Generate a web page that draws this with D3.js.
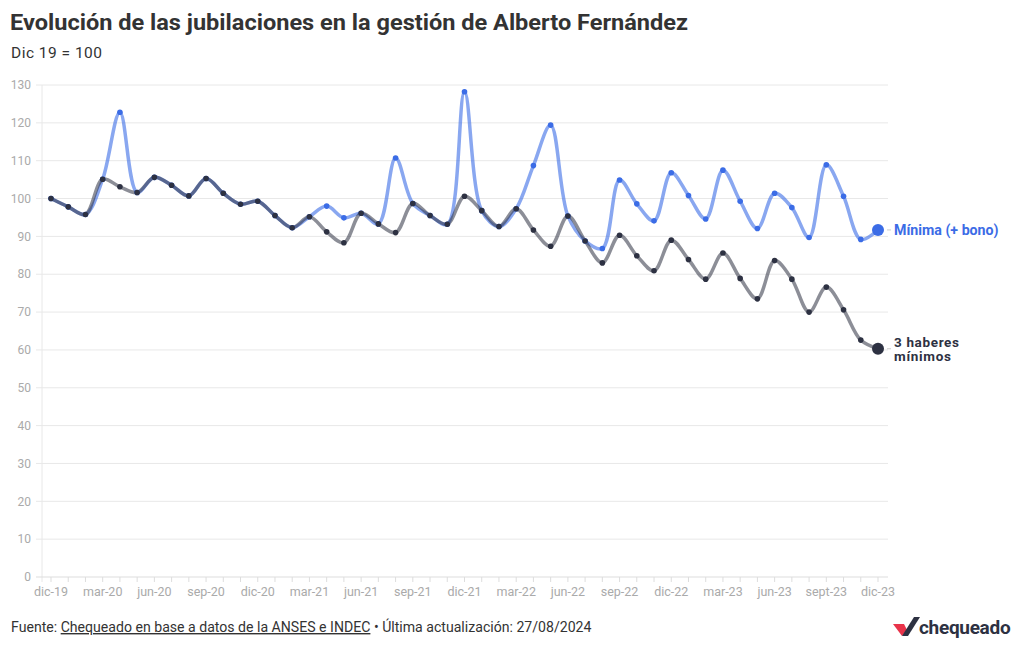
<!DOCTYPE html>
<html><head><meta charset="utf-8">
<script src="https://cdn.jsdelivr.net/npm/d3@7/dist/d3.min.js"></script>
<style>
body{margin:0;background:#fff;font-family:Roboto,"Liberation Sans",sans-serif;}
svg text{font-family:Roboto,"Liberation Sans",sans-serif;}
</style></head>
<body><svg id="c" width="1020" height="650"></svg>
<script>
const months = ["dic-19","ene-20","feb-20","mar-20","abr-20","may-20","jun-20","jul-20","ago-20","sep-20","oct-20","nov-20",
"dic-20","ene-21","feb-21","mar-21","abr-21","may-21","jun-21","jul-21","ago-21","sep-21","oct-21","nov-21",
"dic-21","ene-22","feb-22","mar-22","abr-22","may-22","jun-22","jul-22","ago-22","sep-22","oct-22","nov-22",
"dic-22","ene-23","feb-23","mar-23","abr-23","may-23","jun-23","jul-23","ago-23","sept-23","oct-23","nov-23","dic-23"];
const tickLabels = ["dic-19","mar-20","jun-20","sep-20","dic-20","mar-21","jun-21","sep-21","dic-21","mar-22","jun-22","sep-22","dic-22","mar-23","jun-23","sept-23","dic-23"];
const yTicks = [0,10,20,30,40,50,60,70,80,90,100,110,120,130];
const minimaBono = [100,97.8,95.8,105.1,122.8,101.6,105.6,103.5,100.7,105.3,101.4,98.5,
99.3,95.5,92.3,95.2,98.0,94.9,96.1,93.3,110.7,98.7,95.5,93.2,
128.2,96.8,92.6,97.3,108.7,119.4,95.4,88.8,86.8,104.9,98.6,94.1,
106.8,100.8,94.6,107.5,99.3,92.1,101.4,97.6,89.7,108.9,100.6,89.2,91.7];
const tresHaberes = [100,97.8,95.8,105.1,103.1,101.6,105.6,103.5,100.7,105.3,101.4,98.5,
99.3,95.5,92.3,95.2,91.2,88.3,96.1,93.3,91.0,98.7,95.5,93.2,
100.6,96.8,92.6,97.3,91.7,87.4,95.4,88.8,83.0,90.3,84.9,80.9,
89.0,83.9,78.7,85.6,78.9,73.5,83.6,78.7,70.0,76.6,70.6,62.6,60.3];

const svg = d3.select("#c");
const x = d3.scalePoint().domain(months).range([51,878]);
const y = d3.scaleLinear().domain([0,130]).range([577,85]);

// title
svg.append("text").attr("x",10).attr("y",30).attr("font-size",22).attr("font-weight",700).attr("fill","#333")
  .attr("textLength",678).attr("lengthAdjust","spacingAndGlyphs")
  .text("Evolución de las jubilaciones en la gestión de Alberto Fernández");
svg.append("text").attr("x",11).attr("y",58).attr("font-size",15.5).attr("fill","#333")
  .attr("textLength",91).text("Dic 19 = 100");

// grid
const gy = svg.append("g");
gy.selectAll("line").data(yTicks.filter(d=>d>0)).join("line")
  .attr("x1",36).attr("x2",888).attr("y1",d=>y(d)).attr("y2",d=>y(d)).attr("stroke","#e8e8e8");
gy.selectAll("text").data(yTicks).join("text")
  .attr("x",31).attr("y",d=>y(d)).attr("dy","0.35em").attr("text-anchor","end")
  .attr("font-size",12).attr("fill","#aaa").text(d=>d);
svg.append("line").attr("x1",42).attr("x2",42).attr("y1",y(130)).attr("y2",582).attr("stroke","#e8e8e8");
svg.append("line").attr("x1",36).attr("x2",888).attr("y1",y(0)).attr("y2",y(0)).attr("stroke","#ddd");
// x ticks
svg.append("g").selectAll("line").data(months).join("line")
  .attr("x1",d=>x(d)).attr("x2",d=>x(d)).attr("y1",y(0)).attr("y2",y(0)+5).attr("stroke","#ddd");
svg.append("g").selectAll("text").data(tickLabels).join("text")
  .attr("x",d=>x(d)).attr("y",596).attr("text-anchor","middle").attr("font-size",12.5).attr("fill","#aaa").text(d=>d);

const line = d3.line().x((d,i)=>x(months[i])).y(d=>y(d)).curve(d3.curveCatmullRom.alpha(0.5));
const blue="#3b6ce6", dark="#2d3142";
svg.append("path").attr("d",line(minimaBono)).attr("fill","none").attr("stroke",blue).attr("stroke-opacity",0.6).attr("stroke-width",3.5);
svg.append("path").attr("d",line(tresHaberes)).attr("fill","none").attr("stroke",dark).attr("stroke-opacity",0.55).attr("stroke-width",3.5);

svg.append("g").selectAll("circle").data(minimaBono).join("circle")
  .attr("cx",(d,i)=>x(months[i])).attr("cy",d=>y(d)).attr("r",(d,i)=>i===minimaBono.length-1?6:2.8).attr("fill",blue);
svg.append("g").selectAll("circle").data(tresHaberes).join("circle")
  .attr("cx",(d,i)=>x(months[i])).attr("cy",d=>y(d)).attr("r",(d,i)=>i===tresHaberes.length-1?6:2.8).attr("fill",dark);

// end labels
const lastI = months.length-1;
const lx = x(months[lastI]);
svg.append("line").attr("x1",lx+9).attr("x2",lx+13).attr("y1",y(minimaBono[lastI])).attr("y2",y(minimaBono[lastI])).attr("stroke","#ccc");
svg.append("line").attr("x1",lx+9).attr("x2",lx+13).attr("y1",y(tresHaberes[lastI])).attr("y2",y(tresHaberes[lastI])).attr("stroke","#ccc");
svg.append("text").attr("x",lx+16).attr("y",y(minimaBono[lastI])).attr("dy","0.35em").attr("font-size",14.2).attr("font-weight",700).attr("fill",blue).text("Mínima (+ bono)");
const ly = y(tresHaberes[lastI]);
svg.append("text").attr("x",lx+16).attr("y",ly-2).attr("font-size",13.5).attr("font-weight",700).attr("fill",dark).attr("textLength",65).text("3 haberes");
svg.append("text").attr("x",lx+16).attr("y",ly+12).attr("font-size",13.5).attr("font-weight",700).attr("fill",dark).attr("textLength",57).text("mínimos");

// footer
const f = svg.append("text").attr("x",11).attr("y",632).attr("font-size",14.1).attr("fill","#333");
f.append("tspan").text("Fuente: ");
f.append("tspan").attr("text-decoration","underline").text("Chequeado en base a datos de la ANSES e INDEC");
f.append("tspan").text(" • Última actualización: 27/08/2024");

// logo
const lg = svg.append("g").attr("transform","translate(893,616)");
lg.append("path").attr("d","M0,8 L11,8 L14,14 L9,20 Z").attr("fill","#e8334a");
lg.append("path").attr("d","M9,20 L21,1 L27,1 L15,20 Z").attr("fill","#2d3142");
svg.append("text").attr("x",919).attr("y",634).attr("font-size",19).attr("font-weight",700).attr("fill","#2d3142").attr("letter-spacing",-0.3).text("chequeado");
</script></body></html>
